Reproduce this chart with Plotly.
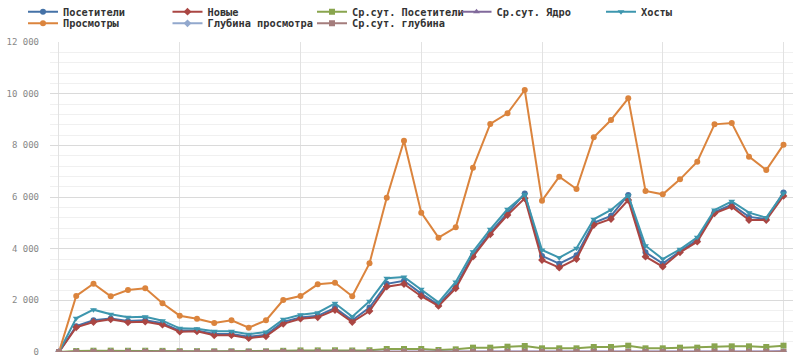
import plotly.graph_objects as go

x_idx = list(range(43))

posetiteli = [0, 1000, 1230, 1300, 1200, 1230, 1110, 830, 835, 700, 700, 590, 665, 1160,
              1340, 1400, 1710, 1230, 1720, 2640, 2760, 2260, 1830, 2550, 3760, 4620, 5380,
              6140, 3720, 3420, 3750, 5000, 5270, 6080, 3860, 3420, 3900, 4340, 5420, 5700,
              5230, 5150, 6170]
novye = [0, 955, 1161, 1265, 1148, 1174, 1058, 787, 800, 645, 650, 535, 610, 1090,
         1290, 1342, 1626, 1161, 1587, 2529, 2632, 2160, 1785, 2464, 3690, 4555, 5303,
         5949, 3561, 3264, 3600, 4916, 5148, 5884, 3690, 3303, 3858, 4271, 5368, 5626,
         5110, 5110, 6040]
sr_posetiteli = [0, 40, 50, 52, 48, 49, 44, 33, 33, 28, 28, 24, 27, 46,
                 60, 62, 66, 58, 68, 116, 116, 116, 77, 103, 168, 168, 206,
                 232, 142, 142, 142, 194, 194, 245, 142, 142, 168, 168, 219, 219,
                 219, 194, 245]
sr_yadro = [0, 6, 7, 7, 6, 6, 6, 5, 5, 4, 4, 4, 4, 6,
            7, 7, 8, 6, 8, 12, 12, 10, 8, 11, 16, 19, 22,
            25, 15, 14, 15, 20, 21, 24, 15, 14, 16, 18, 22, 23,
            21, 21, 25]
hosty = [0, 1304, 1639, 1458, 1342, 1368, 1213, 916, 903, 800, 805, 690, 774, 1265,
         1445, 1523, 1884, 1368, 1961, 2852, 2903, 2426, 1920, 2710, 3884, 4749, 5523,
         6100, 3948, 3652, 4013, 5136, 5497, 6060, 4116, 3600, 3974, 4439, 5497, 5833,
         5394, 5200, 6150]
prosmotry = [0, 2168, 2645, 2155, 2400, 2465, 1884, 1406, 1290, 1122, 1226, 942, 1226, 2013,
             2168, 2620, 2684, 2155, 3432, 5975, 8180, 5394, 4425, 4826, 7136, 8826, 9239,
             10142, 5858, 6787, 6310, 8310, 8981, 9819, 6232, 6103, 6684, 7368, 8813, 8865,
             7562, 7046, 8026]
glubina = [0, 2.2, 2.2, 1.7, 2.0, 2.0, 1.7, 1.7, 1.5, 1.6, 1.8, 1.6, 1.8, 1.7,
           1.6, 1.9, 1.6, 1.8, 2.0, 2.3, 3.0, 2.4, 2.4, 1.9, 1.9, 1.9, 1.7,
           1.7, 1.6, 2.0, 1.7, 1.7, 1.7, 1.6, 1.6, 1.8, 1.7, 1.7, 1.6, 1.6,
           1.4, 1.4, 1.3]
sr_glubina = [0, 2.2, 2.2, 1.7, 2.0, 2.0, 1.7, 1.7, 1.5, 1.6, 1.8, 1.6, 1.8, 1.7,
              1.6, 1.9, 1.6, 1.8, 2.0, 2.3, 3.0, 2.4, 2.4, 1.9, 1.9, 1.9, 1.7,
              1.7, 1.6, 2.0, 1.7, 1.7, 1.7, 1.6, 1.6, 1.8, 1.7, 1.7, 1.6, 1.6,
              1.4, 1.4, 1.3]

# name, values, colour, symbol, legend column, legend row
series = [
    ("Посетители", posetiteli, "#4572A7", "circle", 0, 0),
    ("Новые", novye, "#AA4643", "diamond", 1, 0),
    ("Ср.сут. Посетители", sr_posetiteli, "#89A54E", "square", 2, 0),
    ("Ср.сут. Ядро", sr_yadro, "#80699B", "triangle-up", 3, 0),
    ("Хосты", hosty, "#3D96AE", "triangle-down", 4, 0),
    ("Просмотры", prosmotry, "#DB843D", "circle", 0, 1),
    ("Глубина просмотра", glubina, "#92A8CD", "diamond", 1, 1),
    ("Ср.сут. глубина", sr_glubina, "#A47D7C", "square", 2, 1),
]

legfont = dict(family="DejaVu Sans Mono", size=10.3, color="#333333", weight="bold")
row_y = [11.7, 23.3]
col_step = 144.5
text_x0 = 63

fig = go.Figure()
legends = {}
for k, (name, vals, color, sym, col, row) in enumerate(series):
    lname = "legend" if k == 0 else f"legend{k + 1}"
    fig.add_trace(go.Scatter(
        x=x_idx, y=vals, name=name, mode="lines+markers",
        line=dict(color=color, width=2),
        marker=dict(color=color, symbol=sym, size=6),
        legend=lname,
    ))
    legends[lname] = dict(
        orientation="h", xref="container", yref="container",
        xanchor="left", yanchor="middle",
        x=(text_x0 - 40 + col * col_step) / 800,
        y=1 - row_y[row] / 360,
        font=legfont, bgcolor="rgba(0,0,0,0)", itemwidth=30,
        itemclick=False, itemdoubleclick=False,
    )

fig.update_layout(
    width=800, height=360,
    margin=dict(l=50, r=7, t=42, b=8, autoexpand=False),
    paper_bgcolor="white", plot_bgcolor="white",
    separators=". ",
    showlegend=True,
    xaxis=dict(range=[-0.52, 42.55], showticklabels=False, showgrid=True,
               gridcolor="#e2e2e2", gridwidth=1, dtick=7, tick0=0,
               zeroline=False, showline=False, ticks=""),
    yaxis=dict(range=[0, 12000], dtick=2000, tickformat=",d",
               showgrid=True, gridcolor="#dadada", gridwidth=1,
               minor=dict(dtick=400, showgrid=True, gridcolor="#f0f0f0"),
               zeroline=False, showline=False, ticks="",
               ticklabelstandoff=10,
               tickfont=dict(family="DejaVu Sans Mono", size=9, color="#888888")),
    **legends,
)

fig.write_html("out.html", config={"displayModeBar": False},
               post_script="document.body.style.margin='0';document.body.style.padding='0';")
